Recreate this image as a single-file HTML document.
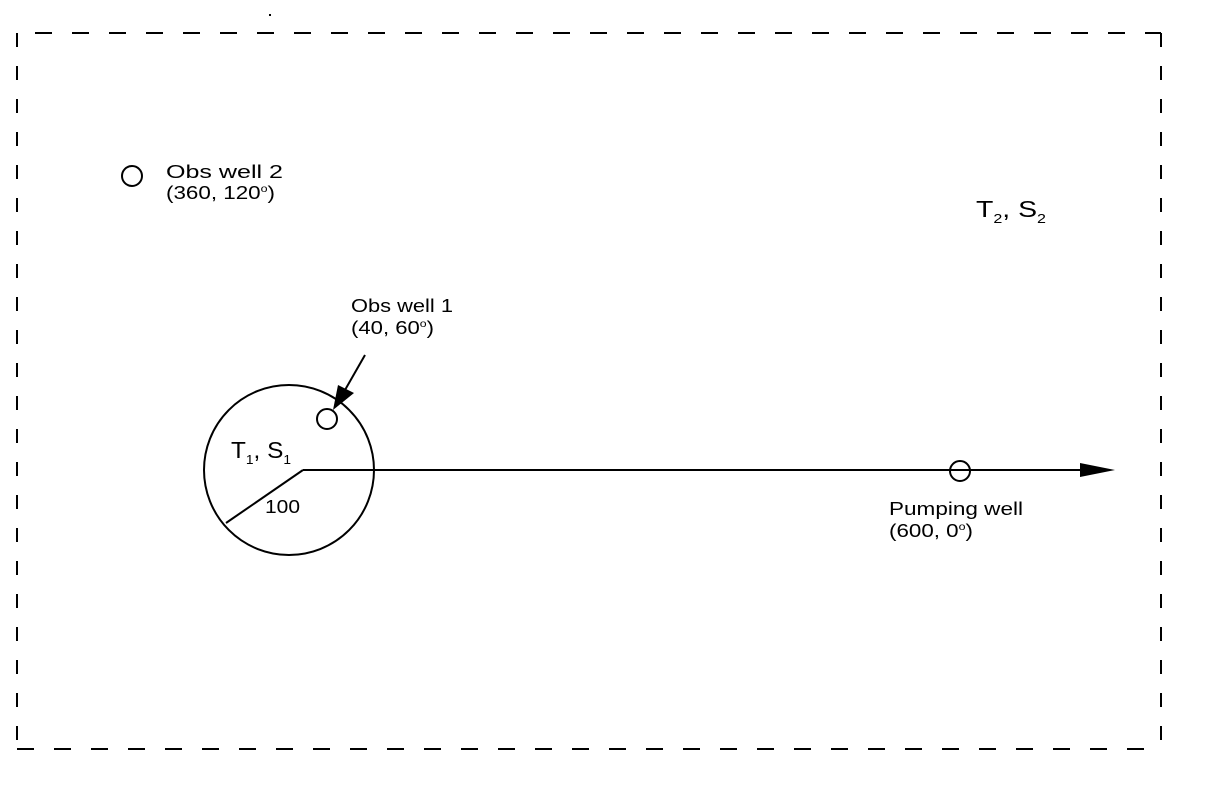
<!DOCTYPE html>
<html><head><style>body{margin:0;background:#fff}svg{display:block}</style></head>
<body>
<svg width="1209" height="809" viewBox="0 0 1209 809" xmlns="http://www.w3.org/2000/svg" font-family="Liberation Sans, Arial, sans-serif" fill="none" stroke="#000">
<line x1="35" y1="33" x2="1161" y2="33" stroke-width="2" stroke-dasharray="17,20"/>
<line x1="17" y1="749" x2="1161" y2="749" stroke-width="2" stroke-dasharray="17,20"/>
<line x1="17" y1="33" x2="17" y2="749" stroke-width="2" stroke-dasharray="14,19"/>
<line x1="1161" y1="33" x2="1161" y2="749" stroke-width="2" stroke-dasharray="14,19"/>
<rect x="269" y="14" width="2" height="2" fill="#000" stroke="none"/>
<circle cx="289" cy="470" r="85" stroke-width="2"/>
<line x1="303" y1="470" x2="1085" y2="470" stroke-width="2"/>
<polygon points="1080,463 1115,470 1080,477" fill="#000" stroke="none"/>
<line x1="303" y1="470" x2="226" y2="523" stroke-width="2"/>
<circle cx="132" cy="176" r="10" stroke-width="2"/>
<circle cx="327" cy="419" r="10" stroke-width="2"/>
<circle cx="960" cy="471" r="10" stroke-width="2"/>
<line x1="365" y1="355" x2="345" y2="390" stroke-width="2"/>
<polygon points="338,385 354,393 333,410" fill="#000" stroke="none"/>
<g fill="#000" stroke="none" font-size="18">
<text x="166" y="178" textLength="117" lengthAdjust="spacingAndGlyphs">Obs well 2</text>
<text x="166" y="199" textLength="109" lengthAdjust="spacingAndGlyphs">(360, 120<tspan font-size="10" dy="-7">o</tspan><tspan dy="7">)</tspan></text>
<text x="351" y="312" textLength="102" lengthAdjust="spacingAndGlyphs">Obs well 1</text>
<text x="351" y="334" textLength="83" lengthAdjust="spacingAndGlyphs">(40, 60<tspan font-size="10" dy="-7">o</tspan><tspan dy="7">)</tspan></text>
<text x="889" y="515" textLength="134" lengthAdjust="spacingAndGlyphs">Pumping well</text>
<text x="889" y="537" textLength="84" lengthAdjust="spacingAndGlyphs">(600, 0<tspan font-size="10" dy="-7">o</tspan><tspan dy="7">)</tspan></text>
<text x="265" y="513" textLength="35" lengthAdjust="spacingAndGlyphs">100</text>
<text x="231" y="458" font-size="23" textLength="60" lengthAdjust="spacingAndGlyphs">T<tspan font-size="13" dy="6">1</tspan><tspan dy="-6">, S</tspan><tspan font-size="13" dy="6">1</tspan></text>
<text x="976" y="217" font-size="23" textLength="70" lengthAdjust="spacingAndGlyphs">T<tspan font-size="13" dy="6">2</tspan><tspan dy="-6">, S</tspan><tspan font-size="13" dy="6">2</tspan></text>
</g>
</svg>
</body></html>
